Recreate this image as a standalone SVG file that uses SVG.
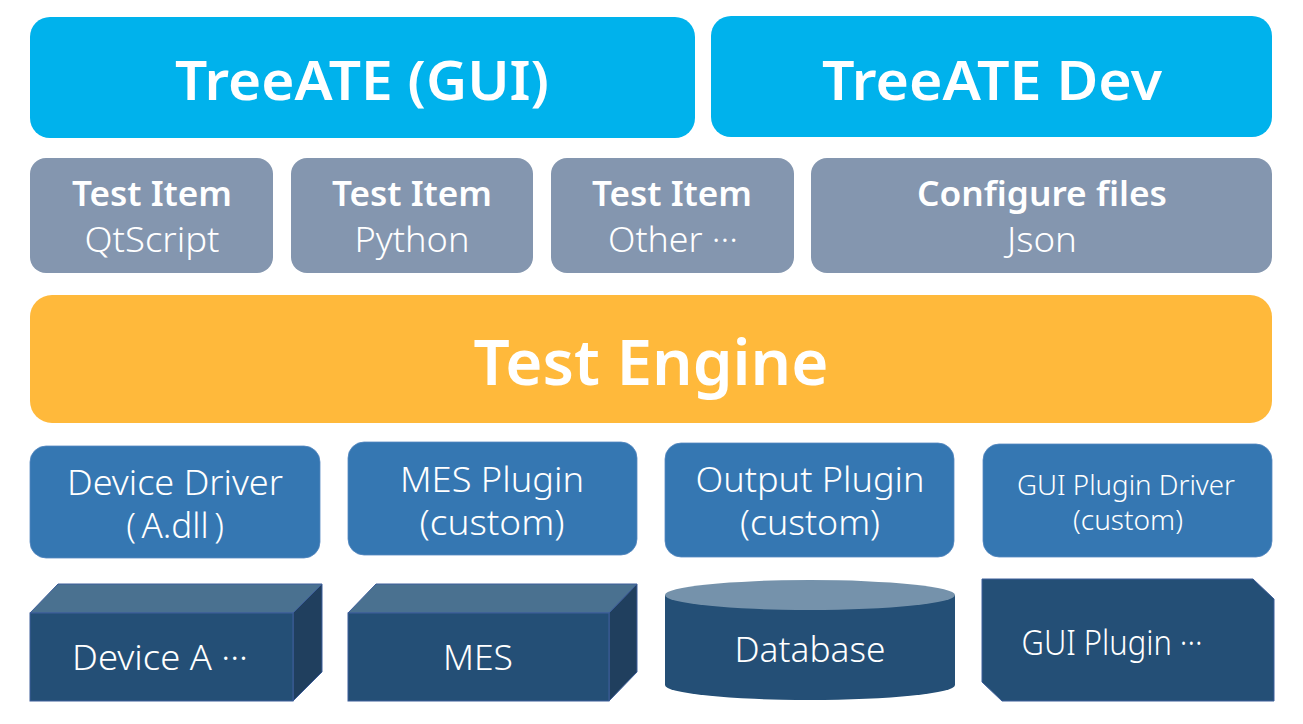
<svg xmlns="http://www.w3.org/2000/svg" width="1303" height="724" viewBox="0 0 1303 724">
<style>
.t{font-family:"Noto Sans","Liberation Sans",Arial,sans-serif;fill:#fff;text-anchor:middle;font-weight:300}
.b{font-weight:600}
.cyan{fill:#00B2EC}
.gray{fill:#8496AF}
.org{fill:#FFB93B}
.blue{fill:#3577B2;stroke:#5588C0;stroke-width:0.8}
.dk{fill:#244F76;stroke:#3D5E9A;stroke-width:1}
.dkt{fill:#4A7190;stroke:#3D5E9A;stroke-width:1}
.dks{fill:#203F5E;stroke:#3D5E9A;stroke-width:1}
</style>
<rect width="1303" height="724" fill="#fff"/>
<g id="treeate-gui"><rect class="cyan" x="30" y="17" width="665" height="121" rx="20"/><text class="t b" x="362" y="100" font-size="54" textLength="374" lengthAdjust="spacingAndGlyphs">TreeATE (GUI)</text></g>
<g id="treeate-dev"><rect class="cyan" x="711" y="16" width="561" height="121" rx="20"/><text class="t b" x="992" y="100" font-size="54" textLength="340" lengthAdjust="spacingAndGlyphs">TreeATE Dev</text></g>
<g id="item-qtscript"><rect class="gray" x="30" y="158" width="243" height="115" rx="16"/><text class="t b" x="152" y="206" font-size="35" textLength="160" lengthAdjust="spacingAndGlyphs">Test Item</text><text class="t" x="152" y="252" font-size="35" textLength="135" lengthAdjust="spacingAndGlyphs">QtScript</text></g>
<g id="item-python"><rect class="gray" x="291" y="158" width="242" height="115" rx="16"/><text class="t b" x="412" y="206" font-size="35" textLength="160" lengthAdjust="spacingAndGlyphs">Test Item</text><text class="t" x="412" y="252" font-size="35" textLength="115" lengthAdjust="spacingAndGlyphs">Python</text></g>
<g id="item-other"><rect class="gray" x="551" y="158" width="243" height="115" rx="16"/><text class="t b" x="672" y="206" font-size="35" textLength="160" lengthAdjust="spacingAndGlyphs">Test Item</text><text class="t" x="673" y="252" font-size="35" textLength="130" lengthAdjust="spacingAndGlyphs">Other ···</text></g>
<g id="config"><rect class="gray" x="811" y="158" width="461" height="115" rx="16"/><text class="t b" x="1042" y="206" font-size="35" textLength="250" lengthAdjust="spacingAndGlyphs">Configure files</text><text class="t" x="1042" y="252" font-size="35" textLength="70" lengthAdjust="spacingAndGlyphs">Json</text></g>
<g id="engine"><rect class="org" x="30" y="295" width="1242" height="128" rx="22"/><text class="t b" x="651" y="385" font-size="64" textLength="355" lengthAdjust="spacingAndGlyphs">Test Engine</text></g>
<g id="device-driver"><rect class="blue" x="30" y="446" width="290" height="112" rx="16"/><text class="t" x="175" y="495" font-size="35" textLength="216" lengthAdjust="spacingAndGlyphs">Device Driver</text><text class="t" y="538" font-size="35"><tspan x="131">(</tspan><tspan x="175">A.dll</tspan><tspan x="219">)</tspan></text></g>
<g id="mes-plugin"><rect class="blue" x="348" y="442" width="289" height="113" rx="16"/><text class="t" x="492" y="492" font-size="35" textLength="184" lengthAdjust="spacingAndGlyphs">MES Plugin</text><text class="t" x="492" y="535" font-size="35" textLength="145" lengthAdjust="spacingAndGlyphs">(custom)</text></g>
<g id="output-plugin"><rect class="blue" x="665" y="443" width="289" height="114" rx="16"/><text class="t" x="810" y="492" font-size="35" textLength="229" lengthAdjust="spacingAndGlyphs">Output Plugin</text><text class="t" x="810" y="535" font-size="35" textLength="140" lengthAdjust="spacingAndGlyphs">(custom)</text></g>
<g id="gui-plugin-driver"><rect class="blue" x="983" y="444" width="289" height="113" rx="16"/><text class="t" x="1126" y="495" font-size="27" textLength="218" lengthAdjust="spacingAndGlyphs">GUI Plugin Driver</text><text class="t" x="1128" y="530" font-size="27" textLength="110" lengthAdjust="spacingAndGlyphs">(custom)</text></g>
<g id="device-a"><polygon class="dkt" points="30,613 58,584 322,584 293,613"/><polygon class="dks" points="293,613 322,584 322,672 293,701"/><rect class="dk" x="30" y="613" width="263" height="88"/><text class="t" x="160" y="670" font-size="34" textLength="176" lengthAdjust="spacingAndGlyphs">Device A ···</text></g>
<g id="mes"><polygon class="dkt" points="348,613 376,584 637,584 609,613"/><polygon class="dks" points="609,613 637,584 637,672 609,701"/><rect class="dk" x="348" y="613" width="261" height="88"/><text class="t" x="478" y="670" font-size="34" textLength="70" lengthAdjust="spacingAndGlyphs">MES</text></g>
<g id="database"><path d="M665,595 L665,685 A145,15 0 0 0 955,685 L955,595 Z" fill="#244F76"/><ellipse cx="810" cy="595" rx="145" ry="15" fill="#7592AB"/><text class="t" x="810" y="662" font-size="34" textLength="151" lengthAdjust="spacingAndGlyphs">Database</text></g>
<g id="gui-plugin"><polygon class="dk" points="982,579 1253,579 1274,599 1274,701 1002,701 982,682"/><text class="t" x="1112" y="655" font-size="34" textLength="181" lengthAdjust="spacingAndGlyphs">GUI Plugin ···</text></g>
<g id="connectors"></g>
</svg>
